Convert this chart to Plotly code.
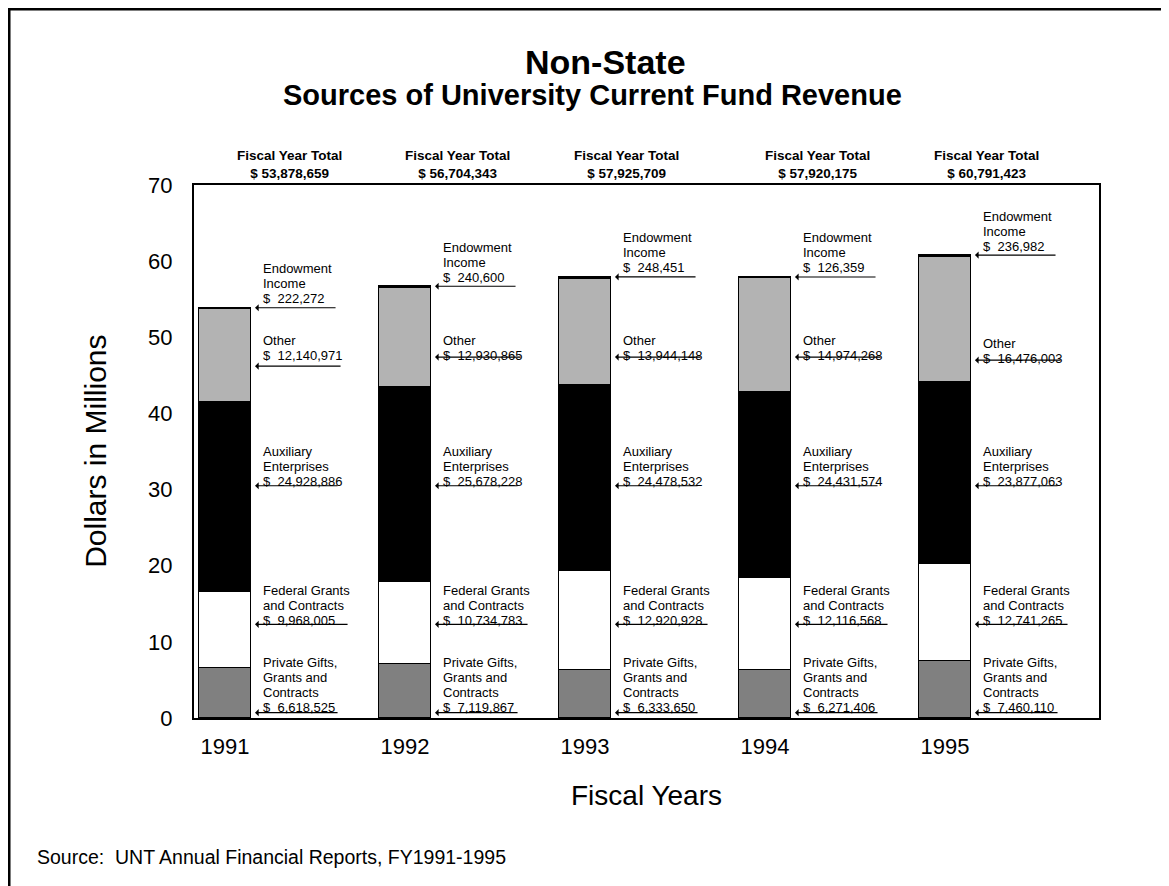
import plotly.graph_objects as go

# ---------------- data (dollars) ----------------
years = ["1991", "1992", "1993", "1994", "1995"]
private_gifts = [6618525, 7119867, 6333650, 6271406, 7460110]
federal_grants = [9968005, 10734783, 12920928, 12116568, 12741265]
auxiliary = [24928886, 25678228, 24478532, 24431574, 23877063]
other = [12140971, 12930865, 13944148, 14974268, 16476003]
endowment = [222272, 240600, 248451, 126359, 236982]

series_names = ["Private Gifts, Grants and Contracts", "Federal Grants and Contracts",
                "Auxiliary Enterprises", "Other", "Endowment Income"]
label_lines = [["Private Gifts,", "Grants and", "Contracts"], ["Federal Grants", "and Contracts"],
               ["Auxiliary", "Enterprises"], ["Other"], ["Endowment", "Income"]]
series_values = [private_gifts, federal_grants, auxiliary, other, endowment]

# ---------------- styles / positions ----------------
colors = ["#808080", "#ffffff", "#000000", "#b3b3b3", "#000000"]
FONT = "Liberation Sans, Arial, sans-serif"
xpos = list(range(len(years)))
bar_width = 0.29
px_per_unit = 180.0
line_step = 15
# arrow levels (millions) for label callouts, endowment uses bar top
arrow_level = {
    0: [0.7, 0.7, 0.7, 0.7, 0.7],
    1: [12.3, 12.3, 12.3, 12.3, 12.3],
    2: [30.5, 30.5, 30.5, 30.5, 30.5],
    3: [46.2, 47.4, 47.4, 47.4, 47.0],
}
# pixel gap from arrow up to centre of last text line
text_gap = {0: [5] * 5, 1: [4] * 5, 2: [4] * 5, 3: [11, 2, 2, 2, 2], 4: [9] * 5}
arrow_len = [84, 94, 84, 87, 82]
total_label_offset = [0.36, 0.29, 0.23, 0.29, 0.23]

fig = go.Figure()
for k, (name, vals) in enumerate(zip(series_names, series_values)):
    fig.add_trace(go.Bar(
        x=xpos, y=[v / 1e6 for v in vals], name=name, width=bar_width,
        marker=dict(color=colors[k], line=dict(color="#000000", width=1.5)),
        showlegend=False, hoverinfo="skip"))

totals = [sum(s[i] for s in series_values) for i in range(len(years))]

ann = []
for i in range(len(years)):
    for k in range(5):
        ylev = totals[i] / 1e6 if k == 4 else arrow_level[k][i]
        lines = label_lines[k] + ["$  {:,}".format(series_values[k][i])]
        n = len(lines)
        for j, line in enumerate(lines):
            from_bottom = n - 1 - j
            ann.append(dict(x=i, y=ylev, xref="x", yref="y", text=line, showarrow=False,
                            xanchor="left", yanchor="middle", align="left",
                            xshift=bar_width / 2 * px_per_unit + 11,
                            yshift=text_gap[k][i] + line_step * from_bottom, borderpad=0,
                            font=dict(family=FONT, size=13, color="#000000")))
        ann.append(dict(x=i + bar_width / 2 + 4 / px_per_unit, y=ylev, xref="x", yref="y",
                        text="", showarrow=True, ax=arrow_len[k], ay=0,
                        arrowhead=1, arrowsize=1, arrowwidth=1.2, arrowcolor="#000000",
                        standoff=0, startstandoff=0))
    ann.append(dict(x=i + total_label_offset[i], y=1.0385, xref="x", yref="paper",
                    text="<b>Fiscal Year Total</b><br><b>$ {:,}</b>".format(totals[i]),
                    showarrow=False, xanchor="center", yanchor="middle",
                    font=dict(family=FONT, size=13.5, color="#000000")))

ann.append(dict(x=0.455, y=1.231, xref="paper", yref="paper", text="<b>Non-State</b>",
                showarrow=False, xanchor="center", yanchor="middle",
                font=dict(family=FONT, size=34, color="#000000")))
ann.append(dict(x=0.440, y=1.169, xref="paper", yref="paper",
                text="<b>Sources of University Current Fund Revenue</b>",
                showarrow=False, xanchor="center", yanchor="middle",
                font=dict(family=FONT, size=29, color="#000000")))
ann.append(dict(x=-0.109, y=0.5, xref="paper", yref="paper", text="Dollars in Millions",
                textangle=-90, showarrow=False, xanchor="center", yanchor="middle",
                font=dict(family=FONT, size=30, color="#000000")))
ann.append(dict(x=0.5, y=-0.1445, xref="paper", yref="paper", text="Fiscal Years",
                showarrow=False, xanchor="center", yanchor="middle",
                font=dict(family=FONT, size=28, color="#000000")))
ann.append(dict(x=-0.176, y=-0.261, xref="paper", yref="paper",
                text="Source:  UNT Annual Financial Reports, FY1991-1995",
                showarrow=False, xanchor="left", yanchor="middle",
                font=dict(family=FONT, size=19.5, color="#000000")))

shapes = [
    dict(type="line", xref="paper", yref="paper", x0=-0.2044, x1=-0.2044, y0=1.335, y1=-0.33,
         line=dict(color="#000000", width=3)),
    dict(type="line", xref="paper", yref="paper", x0=-0.21, x1=1.09, y0=1.330, y1=1.330,
         line=dict(color="#000000", width=3)),
]

fig.update_layout(
    width=1161, height=878, autosize=False,
    margin=dict(l=186, r=70, t=177, b=168),
    barmode="stack", bargap=0,
    plot_bgcolor="#ffffff", paper_bgcolor="#ffffff",
    font=dict(family=FONT, color="#000000"),
    annotations=ann, shapes=shapes,
    xaxis=dict(range=[-0.172, 4.856], tickmode="array", tickvals=xpos, ticktext=years,
               showgrid=False, zeroline=False, showline=True, mirror=True,
               linecolor="#000000", linewidth=2, ticks="",
               tickfont=dict(family=FONT, size=22, color="#000000"), ticklabelstandoff=8),
    yaxis=dict(range=[0, 70], tickmode="array", tickvals=[0, 10, 20, 30, 40, 50, 60, 70],
               showgrid=False, zeroline=False, showline=True, mirror=True,
               linecolor="#000000", linewidth=2, ticks="",
               tickfont=dict(family=FONT, size=22, color="#000000"), ticklabelstandoff=15),
)

fig.write_html("out.html")
